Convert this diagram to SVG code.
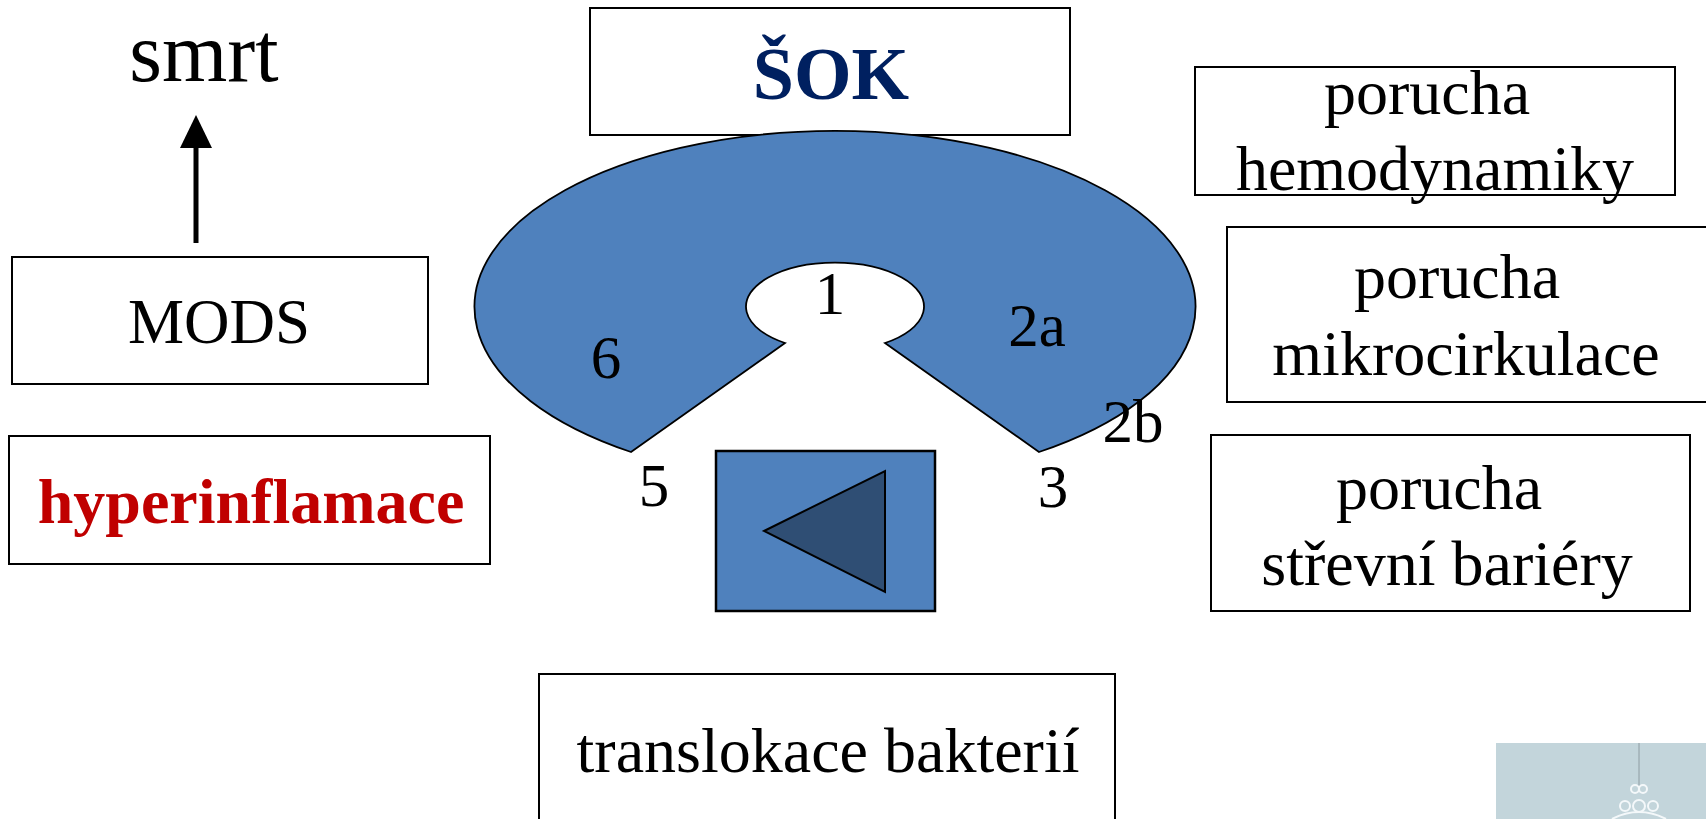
<svg xmlns="http://www.w3.org/2000/svg" width="1706" height="819" viewBox="0 0 1706 819">
  <defs>
    <style>
      .box { fill: #ffffff; stroke: #000000; stroke-width: 2; }
      .t { font-family: "Liberation Serif", "Times New Roman", serif; fill: #000000; text-anchor: middle; }
      .lbl { font-family: "Liberation Serif", "Times New Roman", serif; font-size: 61px; fill: #000000; text-anchor: middle; }
      .blue { fill: #4F81BD; stroke: #000000; }
    </style>
    <marker id="ah" markerWidth="8" markerHeight="8" refX="0" refY="4" orient="auto" markerUnits="userSpaceOnUse" viewBox="0 0 8 8">
      <path d="M0,0 L8,4 L0,8 Z" fill="#000"/>
    </marker>
  </defs>
  <rect width="1706" height="819" fill="#ffffff"/>

  <g id="sok">
    <rect class="box" x="590" y="8" width="480" height="127"/>
    <text class="t" x="831" y="99" font-size="74" font-weight="bold" fill="#002060" style="fill:#002060">ŠOK</text>
  </g>

  <g id="crescent">
    <path class="blue" stroke-width="1.8" d="M1039,452 A360.5,176 0 1 0 631,452 L785,343 A89,44 0 1 1 885,343 Z"/>
    <text class="lbl" x="830" y="314">1</text>
    <text class="lbl" x="1037" y="346">2a</text>
    <text class="lbl" x="1133" y="442">2b</text>
    <text class="lbl" x="1053" y="507">3</text>
    <text class="lbl" x="654" y="506">5</text>
    <text class="lbl" x="606" y="378">6</text>
  </g>

  <g id="smrt">
    <text class="t" x="204" y="81" font-size="84">smrt</text>
  </g>

  <g id="mods">
    <rect class="box" x="12" y="257" width="416" height="127"/>
    <text class="t" x="219" y="343" font-size="63">MODS</text>
  </g>

  <g id="hyperinflamace">
    <rect class="box" x="9" y="436" width="481" height="128"/>
    <text class="t" x="251" y="523" font-size="64" font-weight="bold" style="fill:#C00000">hyperinflamace</text>
  </g>

  <g id="porucha-hemodynamiky">
    <rect class="box" x="1195" y="67" width="480" height="128"/>
    <text class="t" x="1427" y="114" font-size="64">porucha</text>
    <text class="t" x="1435" y="190" font-size="64">hemodynamiky</text>
  </g>

  <g id="porucha-mikrocirkulace">
    <rect class="box" x="1227" y="227" width="490" height="175"/>
    <text class="t" x="1457" y="298" font-size="64">porucha</text>
    <text class="t" x="1466" y="375" font-size="64">mikrocirkulace</text>
  </g>

  <g id="porucha-strevni">
    <rect class="box" x="1211" y="435" width="479" height="176"/>
    <text class="t" x="1439" y="509" font-size="64">porucha</text>
    <text class="t" x="1447" y="585" font-size="64">střevní bariéry</text>
  </g>

  <g id="play-square">
    <rect class="blue" stroke-width="2.5" x="716" y="451" width="219" height="160"/>
    <polygon points="764,531 885,471 885,592" fill="#2F4E74" stroke="#000" stroke-width="2"/>
  </g>

  <g id="translokace">
    <rect class="box" x="539" y="674" width="576" height="150"/>
    <text class="t" x="828" y="772" font-size="64">translokace bakterií</text>
  </g>

  <g id="decor">
    <rect x="1496" y="743" width="210" height="76" fill="#C3D5DB"/>
    <line x1="1639" y1="743" x2="1639" y2="787" stroke="#8E9CA2" stroke-width="1"/>
    <g fill="none" stroke="#F4F8FA" stroke-width="2">
      <circle cx="1635" cy="789" r="4"/>
      <circle cx="1643" cy="789" r="4"/>
      <circle cx="1639" cy="806" r="6"/>
      <circle cx="1625" cy="806" r="5"/>
      <circle cx="1653" cy="806" r="5"/>
      <path d="M1612,819 Q1639,805 1666,819"/>
    </g>
  </g>

  <g id="connectors">
    <line x1="196" y1="243" x2="196" y2="146" stroke="#000" stroke-width="5"/>
    <polygon points="196,115 180,148 212,148" fill="#000"/>
  </g>
</svg>
